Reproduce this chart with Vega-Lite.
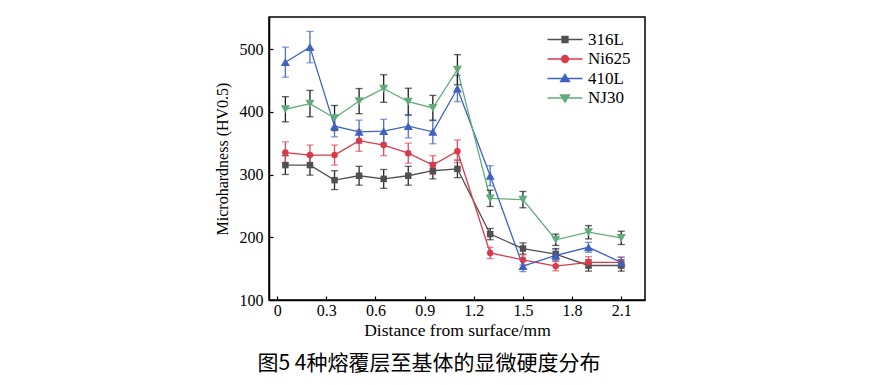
{
  "$schema": "https://vega.github.io/schema/vega-lite/v6.json",
  "width": 376,
  "height": 283,
  "autosize": "none",
  "padding": {"left": 269, "top": 17, "right": 227, "bottom": 85},
  "background": "white",
  "config": {
    "view": {"stroke": "black", "strokeWidth": 1.5},
    "font": "Liberation Serif",
    "axis": {"domainColor": "black", "domainWidth": 1.5, "tickColor": "black", "tickWidth": 1.2, "tickSize": -4, "grid": false, "labelFont": "Liberation Serif", "labelFontSize": 16, "labelColor": "black", "titleFont": "Liberation Serif", "titleFontSize": 16, "titleFontWeight": "normal", "titleColor": "black"}
  },
  "title": {"text": "图5  4种熔覆层至基体的显微硬度分布", "orient": "bottom", "anchor": "middle", "dx": -28, "offset": 14, "font": "Noto Sans CJK SC", "fontSize": 21, "fontWeight": "normal", "color": "black"},
  "data": {"values": [
    {"series": "316L", "x": 0.05, "y": 315, "err": 15},
    {"series": "316L", "x": 0.2, "y": 315, "err": 16},
    {"series": "316L", "x": 0.35, "y": 291, "err": 15},
    {"series": "316L", "x": 0.5, "y": 298, "err": 15},
    {"series": "316L", "x": 0.65, "y": 293, "err": 15},
    {"series": "316L", "x": 0.8, "y": 298, "err": 15},
    {"series": "316L", "x": 0.95, "y": 306, "err": 13},
    {"series": "316L", "x": 1.1, "y": 309, "err": 14},
    {"series": "316L", "x": 1.3, "y": 205, "err": 9},
    {"series": "316L", "x": 1.5, "y": 182, "err": 9},
    {"series": "316L", "x": 1.7, "y": 173, "err": 9},
    {"series": "316L", "x": 1.9, "y": 155, "err": 9},
    {"series": "316L", "x": 2.1, "y": 155, "err": 9},
    {"series": "Ni625", "x": 0.05, "y": 335, "err": 17},
    {"series": "Ni625", "x": 0.2, "y": 331, "err": 16},
    {"series": "Ni625", "x": 0.35, "y": 331, "err": 16},
    {"series": "Ni625", "x": 0.5, "y": 354, "err": 17},
    {"series": "Ni625", "x": 0.65, "y": 347, "err": 17},
    {"series": "Ni625", "x": 0.8, "y": 334, "err": 16},
    {"series": "Ni625", "x": 0.95, "y": 315, "err": 15},
    {"series": "Ni625", "x": 1.1, "y": 337, "err": 18},
    {"series": "Ni625", "x": 1.3, "y": 175, "err": 9},
    {"series": "Ni625", "x": 1.5, "y": 164, "err": 8},
    {"series": "Ni625", "x": 1.7, "y": 154, "err": 7.5},
    {"series": "Ni625", "x": 1.9, "y": 160, "err": 9},
    {"series": "Ni625", "x": 2.1, "y": 160, "err": 8},
    {"series": "410L", "x": 0.05, "y": 479, "err": 24},
    {"series": "410L", "x": 0.2, "y": 503, "err": 25},
    {"series": "410L", "x": 0.35, "y": 377, "err": 17},
    {"series": "410L", "x": 0.5, "y": 368, "err": 18.6},
    {"series": "410L", "x": 0.65, "y": 369, "err": 19},
    {"series": "410L", "x": 0.8, "y": 377, "err": 18.6},
    {"series": "410L", "x": 0.95, "y": 368, "err": 19},
    {"series": "410L", "x": 1.1, "y": 437, "err": 21},
    {"series": "410L", "x": 1.3, "y": 298, "err": 16},
    {"series": "410L", "x": 1.5, "y": 154, "err": 8.8},
    {"series": "410L", "x": 1.7, "y": 171, "err": 9},
    {"series": "410L", "x": 1.9, "y": 184, "err": 8},
    {"series": "410L", "x": 2.1, "y": 160, "err": 8.5},
    {"series": "NJ30", "x": 0.05, "y": 404, "err": 20},
    {"series": "NJ30", "x": 0.2, "y": 413, "err": 21},
    {"series": "NJ30", "x": 0.35, "y": 390, "err": 20},
    {"series": "NJ30", "x": 0.5, "y": 417, "err": 20},
    {"series": "NJ30", "x": 0.65, "y": 437, "err": 22},
    {"series": "NJ30", "x": 0.8, "y": 416, "err": 21.5},
    {"series": "NJ30", "x": 0.95, "y": 406, "err": 20},
    {"series": "NJ30", "x": 1.1, "y": 467, "err": 24},
    {"series": "NJ30", "x": 1.3, "y": 262, "err": 13},
    {"series": "NJ30", "x": 1.5, "y": 260, "err": 13},
    {"series": "NJ30", "x": 1.7, "y": 196, "err": 9},
    {"series": "NJ30", "x": 1.9, "y": 208, "err": 10.6},
    {"series": "NJ30", "x": 2.1, "y": 199, "err": 10.6}
  ]},
  "encoding": {
    "x": {"field": "x", "type": "quantitative", "scale": {"domain": [-0.05, 2.245], "nice": false, "zero": false},
      "axis": {"values": [0, 0.3, 0.6, 0.9, 1.2, 1.5, 1.8, 2.1], "format": "~g", "title": "Distance from surface/mm", "titleFontSize": 17.5, "labelPadding": 6, "titlePadding": 3}},
    "y": {"field": "y", "type": "quantitative", "scale": {"domain": [100, 551], "nice": false, "zero": false},
      "axis": {"values": [100, 200, 300, 400, 500], "title": "Microhardness (HV0.5)", "labelPadding": 10, "titlePadding": 9}}
  },
  "layer": [
    {
      "mark": {"type": "line", "strokeWidth": 1.3},
      "encoding": {
        "color": {"field": "series", "type": "nominal", "legend": null,
          "scale": {"domain": ["316L", "Ni625", "410L", "NJ30"], "range": ["#505050", "#d93a4c", "#3d62c0", "#62ab7c"]}}
      }
    },
    {
      "mark": {"type": "errorbar", "ticks": {"size": 7}, "thickness": 1.3},
      "encoding": {
        "yError": {"field": "err"},
        "color": {"field": "series", "type": "nominal", "legend": null,
          "scale": {"domain": ["316L", "Ni625", "410L", "NJ30"], "range": ["#2a2a2a", "#df4d5d", "#4a70c8", "#1e1e1e"]}}
      }
    },
    {
      "mark": {"type": "point", "filled": true, "opacity": 1, "size": 42},
      "encoding": {
        "color": {"field": "series", "type": "nominal",
          "scale": {"domain": ["316L", "Ni625", "410L", "NJ30"], "range": ["#505050", "#d93a4c", "#3d62c0", "#62ab7c"]},
          "legend": {"title": null, "orient": "top-right", "offset": 14, "labelFont": "Liberation Serif", "labelFontSize": 17, "labelColor": "black", "rowPadding": 1.5, "labelOffset": 2, "symbolSize": 100, "symbolStrokeWidth": 1.3,
            "encoding": {"symbols": {
              "stroke": {"value": {"expr": "datum.value === '316L' ? '#505050' : datum.value === 'Ni625' ? '#d93a4c' : datum.value === '410L' ? '#3d62c0' : '#62ab7c'"}},
              "shape": {"value": {"expr": "datum.value === '316L' ? 'M-6,0H1M-3.1,-0.6H-1.9V0.6H-3.1Z' : datum.value === 'Ni625' ? 'M-6,0H1M-3.2,0A0.7,0.7,0,1,0,-1.8,0A0.7,0.7,0,1,0,-3.2,0Z' : datum.value === '410L' ? 'M-6,0H1M-2.5,-0.85L-1.6,0.6H-3.4Z' : 'M-6,0H1M-2.5,0.85L-1.6,-0.6H-3.4Z'"}}
            }}}},
        "shape": {"field": "series", "type": "nominal", "legend": null,
          "scale": {"domain": ["316L", "Ni625", "410L", "NJ30"], "range": ["square", "circle", "M0,-1.25L1.4,1.2H-1.4Z", "M0,1.25L1.4,-1.2H-1.4Z"]}}
      }
    }
  ],
  "resolve": {"scale": {"color": "independent"}}
}
